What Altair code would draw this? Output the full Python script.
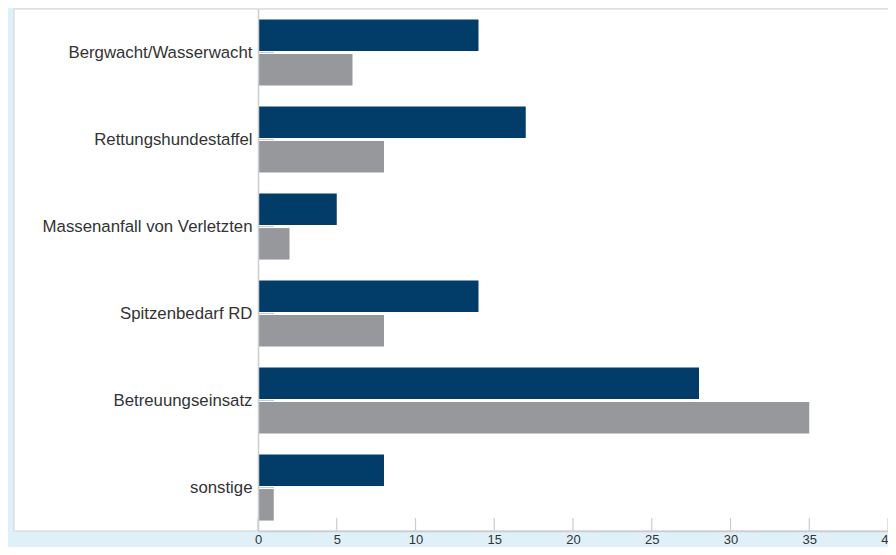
import altair as alt
import pandas as pd

categories = [
    "Bergwacht/Wasserwacht",
    "Rettungshundestaffel",
    "Massenanfall von Verletzten",
    "Spitzenbedarf RD",
    "Betreuungseinsatz",
    "sonstige",
]
series_names = ["Serie 1", "Serie 2"]
series_1 = [14, 17, 5, 14, 28, 8]
series_2 = [6, 8, 2, 8, 35, 1]
x_ticks = [0, 5, 10, 15, 20, 25, 30, 35, 40]

rows = []
for c, a, b in zip(categories, series_1, series_2):
    rows.append({"cat": c, "serie": series_names[0], "wert": a})
    rows.append({"cat": c, "serie": series_names[1], "wert": b})
df = pd.DataFrame(rows)

W, H = 630, 522
AX = "#c9cdd1"
y_scale = alt.Scale(domain=categories, paddingInner=0.24, paddingOuter=0.12)
x_scale = alt.Scale(domain=[0, 40], nice=False)

panel = alt.Chart(pd.DataFrame({"a": [0]})).mark_rect(
    fill="white", stroke="#dddddd", strokeWidth=1.5
).encode(x=alt.value(-244), x2=alt.value(W + 4), y=alt.value(0), y2=alt.value(H))

bars = alt.Chart(df).mark_bar().encode(
    x=alt.X(
        "wert:Q",
        scale=x_scale,
        axis=alt.Axis(
            values=x_ticks, title=None, grid=False, ticks=False, domainColor=AX,
            domainWidth=1.5, labelFont="Liberation Sans", labelFontSize=13,
            labelColor="#333333", labelPadding=2, zindex=1, labelFlush=False,
        ),
    ),
    y=alt.Y(
        "cat:N",
        scale=y_scale,
        sort=categories,
        axis=alt.Axis(
            title=None, ticks=False, domainColor=AX, domainWidth=1.5,
            labelFont="Liberation Sans", labelFontSize=16.8, labelColor="#333333",
            labelPadding=6, zindex=1, labelLimit=400,
        ),
    ),
    yOffset=alt.YOffset(
        "serie:N", scale=alt.Scale(domain=series_names, paddingInner=0.09)
    ),
    color=alt.Color(
        "serie:N",
        scale=alt.Scale(domain=series_names, range=["#023d6a", "#97989c"]),
        legend=None,
    ),
)

xt = alt.Chart(pd.DataFrame({"t": x_ticks})).mark_rule(
    color=AX, strokeWidth=1.2
).encode(
    x=alt.X("t:Q", scale=x_scale),
    y=alt.value(H - 13),
    y2=alt.value(H),
)

yt = alt.Chart(pd.DataFrame({"cat": categories})).mark_rule(
    color=AX, strokeWidth=1.2
).encode(
    y=alt.Y("cat:N", scale=y_scale, sort=categories, bandPosition=0.5),
    x=alt.value(0),
    x2=alt.value(16),
)

chart = (
    alt.layer(panel, bars, xt, yt)
    .properties(
        width=W,
        height=H,
        background="#dff0f8",
        autosize=alt.AutoSizeParams(type="none"),
        padding={"left": 250, "top": 1, "right": 0, "bottom": 16},
    )
    .configure_view(stroke=None)
)

chart.save("out.html", embed_options={"renderer": "svg", "actions": False})
